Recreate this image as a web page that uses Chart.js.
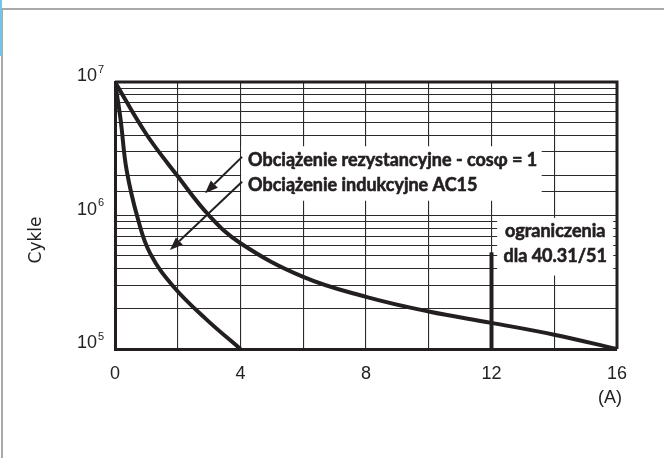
<!DOCTYPE html>
<html>
<head>
<meta charset="utf-8">
<script src="https://cdn.jsdelivr.net/npm/chart.js@4"></script>
<style>
body { margin: 0; background: #fff; }
#wrap { position: relative; width: 664px; height: 458px; overflow: hidden; }
#frame { position: absolute; left: 1px; top: 8px; width: 700px; height: 500px; border-left: 2px solid #a9a9a9; border-top: 2px solid #a9a9a9; }
#tab { position: absolute; left: 0; top: 0; width: 2px; height: 56px; background: #73c6ea; }
canvas { position: absolute; left: 0; top: 0; }
</style>
</head>
<body>
<div id="wrap">
  <canvas id="chart" width="664" height="458"></canvas>
  <div id="frame"></div>
  <div id="tab"></div>
</div>
<script>
// curve data (current in A, cycles)
const resistiveA = [0, 1, 2, 3, 4, 6, 8, 10, 12, 14, 16];
const resistiveCycles = [1e7, 4.06e6, 1.97e6, 1.0e6, 6.2e5, 3.47e5, 2.46e5, 1.91e5, 1.57e5, 1.28e5, 1e5];
const inductiveA = [0, 0.18, 0.37, 0.74, 1.12, 1.86, 2.92, 4];
const inductiveCycles = [1e7, 5.2e6, 2.19e6, 9.25e5, 5.2e5, 2.94e5, 1.66e5, 1e5];
// limit bar for 40.31/51
const limitA = [12, 12];
const limitCycles = [1e5, 5.3e5];

const xTickLabels = [0, 4, 8, 12, 16];
const yPowers = [5, 6, 7];

const labelRes = 'Obciążenie rezystancyjne - cosφ = 1';
const labelInd = 'Obciążenie indukcyjne AC15';
const limitLines = ['ograniczenia', 'dla 40.31/51'];

const ink = '#231f20';

function toPoints(xs, ys) {
    return xs.map((v, i) => ({ x: v, y: ys[i] }));
}

function arrow(ctx, x1, y1, x2, y2) {
    const a = Math.atan2(y2 - y1, x2 - x1);
    const head = 13, half = 5;
    const bx = x2 - head * Math.cos(a), by = y2 - head * Math.sin(a);
    ctx.beginPath();
    ctx.moveTo(x1, y1);
    ctx.lineTo(bx, by);
    ctx.stroke();
    ctx.beginPath();
    ctx.moveTo(x2, y2);
    ctx.lineTo(bx - half * Math.sin(a), by + half * Math.cos(a));
    ctx.lineTo(bx + half * Math.sin(a), by - half * Math.cos(a));
    ctx.closePath();
    ctx.fill();
}

// bold text, a thin stroke makes it a bit heavier
function heavyText(ctx, txt, px, py) {
    ctx.fillText(txt, px, py);
    ctx.strokeText(txt, px, py);
}

// white boxes behind the labels, then the texts, arrows and frame
const overlay = {
    id: 'overlay',
    beforeDatasetsDraw(chart) {
        const { ctx, scales: { x, y } } = chart;
        ctx.save();
        ctx.fillStyle = '#fff';
        // box behind the two load labels
        let l = x.getPixelForValue(4.02), r = x.getPixelForValue(13.6);
        let t = y.getPixelForValue(3.3e6), b = y.getPixelForValue(1.29e6);
        ctx.fillRect(l, t, r - l, b - t);
        // box behind "ograniczenia"
        l = x.getPixelForValue(12.18); r = x.getPixelForValue(15.88);
        t = y.getPixelForValue(9.6e5); b = y.getPixelForValue(3.55e5);
        ctx.fillRect(l, t, r - l, b - t);
        ctx.restore();
    },
    afterDraw(chart) {
        const { ctx, chartArea, scales: { x, y } } = chart;
        ctx.save();

        // top and right edge of the plot
        ctx.strokeStyle = ink;
        ctx.lineWidth = 3;
        ctx.beginPath();
        ctx.moveTo(chartArea.left, chartArea.top);
        ctx.lineTo(chartArea.right, chartArea.top);
        ctx.lineTo(chartArea.right, chartArea.bottom);
        ctx.stroke();

        // y tick labels 10^n
        ctx.fillStyle = '#222';
        yPowers.forEach(p => {
            const py = y.getPixelForValue(Math.pow(10, p)) - 5.5;
            ctx.font = '18px "Liberation Sans"';
            ctx.textAlign = 'right';
            ctx.textBaseline = 'middle';
            ctx.fillText('10', chartArea.left - 18, py);
            ctx.font = '11px "Liberation Sans"';
            ctx.textAlign = 'left';
            ctx.fillText(String(p), chartArea.left - 17, py - 7);
        });

        // y title
        ctx.save();
        ctx.translate(36.5, 240);
        ctx.rotate(-Math.PI / 2);
        ctx.font = '17px "DejaVu Sans"';
        ctx.textAlign = 'center';
        ctx.textBaseline = 'middle';
        ctx.fillText('Cykle', 0, 0);
        ctx.restore();

        // unit
        ctx.font = '18px "Liberation Sans"';
        ctx.textAlign = 'center';
        ctx.textBaseline = 'middle';
        ctx.fillText('(A)', x.getPixelForValue(16) - 7, 398);

        // load labels with arrows
        ctx.fillStyle = ink;
        ctx.strokeStyle = ink;
        ctx.lineWidth = 2;
        arrow(ctx, x.getPixelForValue(4.05), y.getPixelForValue(2.75e6), x.getPixelForValue(2.87), y.getPixelForValue(1.47e6));
        arrow(ctx, x.getPixelForValue(4.05), y.getPixelForValue(1.79e6), x.getPixelForValue(1.75), y.getPixelForValue(5.52e5));
        ctx.font = 'bold 18px Lato';
        ctx.lineWidth = 0.6;
        ctx.textAlign = 'left';
        ctx.textBaseline = 'middle';
        heavyText(ctx, labelRes, x.getPixelForValue(4.24), y.getPixelForValue(2.6e6));
        heavyText(ctx, labelInd, x.getPixelForValue(4.24), y.getPixelForValue(1.69e6));

        ctx.textAlign = 'center';
        heavyText(ctx, limitLines[0], x.getPixelForValue(14.03), y.getPixelForValue(7.57e5));
        heavyText(ctx, limitLines[1], x.getPixelForValue(14.03), y.getPixelForValue(4.92e5));
        ctx.restore();
    }
};

const lineStyle = {
    borderColor: ink,
    borderWidth: 4,
    pointRadius: 0,
    fill: false,
    tension: 0.4
};

new Chart(document.getElementById('chart'), {
    type: 'line',
    data: {
        datasets: [
            Object.assign({ label: labelRes, data: toPoints(resistiveA, resistiveCycles) }, lineStyle),
            Object.assign({ label: labelInd, data: toPoints(inductiveA, inductiveCycles) }, lineStyle),
            { label: 'limit', data: toPoints(limitA, limitCycles), borderColor: ink, borderWidth: 4, pointRadius: 0, borderCapStyle: 'butt' }
        ]
    },
    options: {
        responsive: false,
        animation: false,
        layout: { padding: { top: 82, right: 47, left: 0, bottom: 0 } },
        plugins: { legend: { display: false }, tooltip: { enabled: false } },
        scales: {
            x: {
                type: 'linear',
                min: 0,
                max: 16,
                afterFit: s => { s.height = 109; },
                border: { color: ink, width: 3 },
                grid: { color: '#2a2a2a', lineWidth: 1.1, drawTicks: false },
                ticks: {
                    stepSize: 2,
                    autoSkip: false,
                    maxRotation: 0,
                    padding: 14,
                    color: '#222',
                    font: { family: 'Liberation Sans', size: 18 },
                    callback: v => xTickLabels.includes(v) ? String(v) : ''
                }
            },
            y: {
                type: 'logarithmic',
                min: 1e5,
                max: 1e7,
                afterFit: s => { s.width = 115; },
                border: { color: ink, width: 3 },
                grid: { color: '#2a2a2a', lineWidth: 1.1, drawTicks: false },
                ticks: { display: false, autoSkip: false }
            }
        }
    },
    plugins: [overlay]
});
</script>
</body>
</html>
